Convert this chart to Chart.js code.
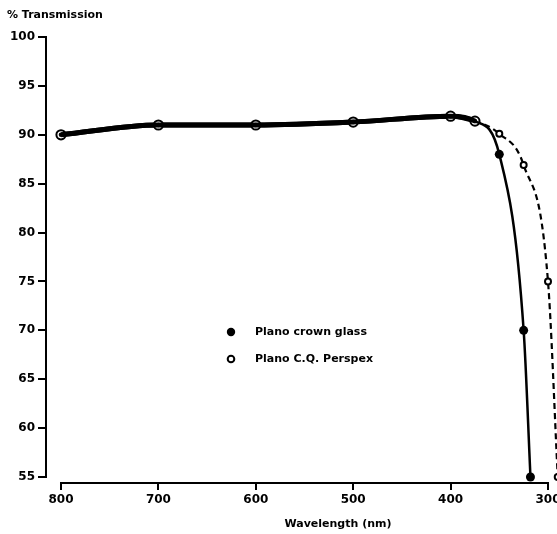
<!DOCTYPE html>
<html>
<head>
<meta charset="utf-8">
<script src="https://cdn.jsdelivr.net/npm/chart.js@4/dist/chart.umd.min.js"></script>
<style>
html,body{margin:0;padding:0;background:#fff;}
#wrap{width:557px;height:534px;}
</style>
</head>
<body>
<div id="wrap"><canvas id="c" width="557" height="534"></canvas></div>
<script>
// ---- data ----
const crownWavelengths = [800, 700, 600, 500, 400, 375, 350, 325, 318];
const crownValues      = [90, 91, 91, 91.3, 91.9, 91.4, 88, 70, 55];
const perspexWavelengths = [800, 700, 600, 500, 400, 375, 350, 325, 300, 290];
const perspexValues      = [90, 91, 91, 91.3, 91.9, 91.4, 90.1, 86.9, 75, 55];
const xTicks = [800, 700, 600, 500, 400, 300];
const yTicks = [55, 60, 65, 70, 75, 80, 85, 90, 95, 100];
const seriesNames = ['Plano crown glass', 'Plano C.Q. Perspex'];
const yTitle = '% Transmission';
const xTitle = 'Wavelength (nm)';

const FONT = "'DejaVu Sans', sans-serif";
const sharedCount = 6; // points shared by both series (bullseye markers)

const crownData = crownWavelengths.map((w, i) => ({x: w, y: crownValues[i]}));
const perspexData = perspexWavelengths.map((w, i) => ({x: w, y: perspexValues[i]}));

const crownRadius = crownData.map((_, i) => i < sharedCount ? 2.3 : 4.5);
const perspexRadius = perspexData.map((_, i) => i < sharedCount ? 4.6 : 3);

const decor = {
  id: 'decor',
  beforeDatasetsDraw(chart) {
    const ctx = chart.ctx;
    const xs = chart.scales.x, ys = chart.scales.y;
    ctx.save();
    ctx.strokeStyle = '#000';
    ctx.lineWidth = 2;
    ctx.beginPath();
    const yx = chart.chartArea.left;
    ctx.moveTo(yx, ys.getPixelForValue(yTicks[yTicks.length - 1]) - 1);
    ctx.lineTo(yx, ys.getPixelForValue(yTicks[0]) + 1);
    ctx.stroke();
    const xy = chart.chartArea.bottom;
    ctx.beginPath();
    ctx.moveTo(xs.getPixelForValue(xTicks[0]) - 1, xy);
    ctx.lineTo(xs.getPixelForValue(xTicks[xTicks.length - 1]) + 1, xy);
    ctx.stroke();
    ctx.restore();
  },
  afterDraw(chart) {
    const ctx = chart.ctx;
    ctx.save();
    ctx.fillStyle = '#000';
    ctx.textBaseline = 'middle';
    ctx.textAlign = 'left';
    ctx.font = 'bold 11px ' + FONT;
    ctx.fillText(yTitle, 7, 15);
    ctx.textAlign = 'center';
    ctx.fillText(xTitle, 338, 524);
    // legend
    ctx.textAlign = 'left';
    ctx.fillText(seriesNames[0], 255, 332);
    ctx.fillText(seriesNames[1], 255, 359);
    ctx.beginPath();
    ctx.arc(231, 332, 4.2, 0, Math.PI * 2);
    ctx.fill();
    ctx.beginPath();
    ctx.arc(231, 359, 3.3, 0, Math.PI * 2);
    ctx.fillStyle = '#fff';
    ctx.fill();
    ctx.lineWidth = 2;
    ctx.strokeStyle = '#000';
    ctx.stroke();
    ctx.restore();
  }
};

new Chart(document.getElementById('c'), {
  type: 'line',
  data: {
    datasets: [
      {
        label: seriesNames[0],
        data: crownData,
        order: 0,
        borderColor: '#000',
        backgroundColor: '#000',
        pointBackgroundColor: '#000',
        pointBorderColor: '#000',
        pointBorderWidth: 0,
        pointRadius: crownRadius,
        cubicInterpolationMode: 'monotone',
        clip: false,
        segment: {
          borderWidth: c => c.p0DataIndex < sharedCount - 1 ? 5 : 2.5
        }
      },
      {
        label: seriesNames[1],
        data: perspexData,
        order: 1,
        borderColor: '#000',
        backgroundColor: '#fff',
        pointBackgroundColor: '#fff',
        pointBorderColor: '#000',
        pointBorderWidth: 2,
        pointRadius: perspexRadius,
        cubicInterpolationMode: 'monotone',
        clip: false,
        segment: {
          borderWidth: c => c.p0DataIndex < sharedCount - 1 ? 5 : 2.2,
          borderDash: c => c.p0DataIndex < sharedCount - 1 ? [] : [6, 4]
        }
      }
    ]
  },
  options: {
    responsive: false,
    animation: false,
    devicePixelRatio: 1,
    layout: {autoPadding: false, padding: {top: 37, left: 0, right: 0, bottom: 0}},
    plugins: {legend: {display: false}, tooltip: {enabled: false}, title: {display: false}},
    scales: {
      x: {
        type: 'linear',
        reverse: true,
        min: 290.76,
        max: 815.4,
        afterBuildTicks: s => { s.ticks = xTicks.map(v => ({value: v})); },
        afterFit: s => { s.height = 51; s.paddingLeft = 0; s.paddingRight = 0; },
        border: {display: false},
        grid: {drawOnChartArea: false, drawTicks: true, tickLength: 7, color: '#000', lineWidth: 2},
        ticks: {color: '#000', font: {family: FONT, size: 12, weight: 'bold'}, padding: 3, maxRotation: 0, autoSkip: false}
      },
      y: {
        type: 'linear',
        min: 54.39,
        max: 100,
        afterBuildTicks: s => { s.ticks = yTicks.map(v => ({value: v})); },
        afterFit: s => { s.width = 46; s.paddingTop = 0; s.paddingBottom = 0; },
        border: {display: false},
        grid: {drawOnChartArea: false, drawTicks: true, tickLength: 8, color: '#000', lineWidth: 2},
        ticks: {color: '#000', font: {family: FONT, size: 12, weight: 'bold'}, padding: 3, autoSkip: false}
      }
    }
  },
  plugins: [decor]
});
</script>
</body>
</html>
